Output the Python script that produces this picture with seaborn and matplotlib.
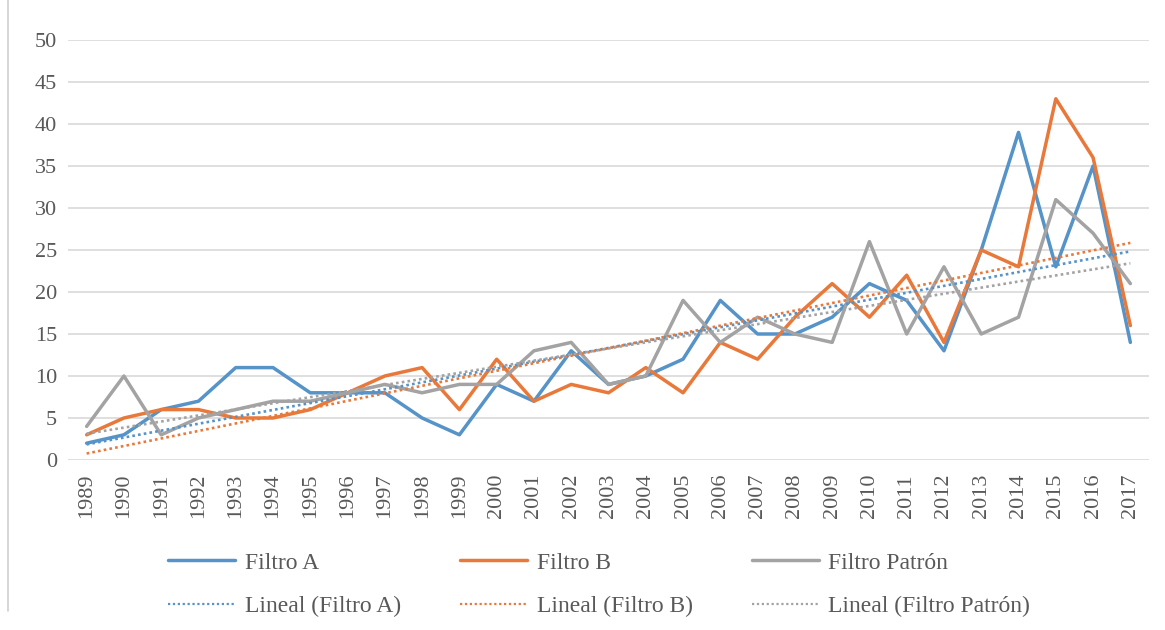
import numpy as np
import pandas as pd
import matplotlib
matplotlib.use("Agg")
import matplotlib.pyplot as plt
import seaborn as sns
from matplotlib.lines import Line2D

# datos
anios = list(range(1989, 2018))
filtro_a = [2, 3, 6, 7, 11, 11, 8, 8, 8, 5, 3, 9, 7, 13, 9, 10, 12, 19, 15, 15,
            17, 21, 19, 13, 25, 39, 23, 35, 14]
filtro_b = [3, 5, 6, 6, 5, 5, 6, 8, 10, 11, 6, 12, 7, 9, 8, 11, 8, 14, 12, 17,
            21, 17, 22, 14, 25, 23, 43, 36, 16]
filtro_patron = [4, 10, 3, 5, 6, 7, 7, 8, 9, 8, 9, 9, 13, 14, 9, 10, 19, 14, 17, 15,
                 14, 26, 15, 23, 15, 17, 31, 27, 21]

series = ["Filtro A", "Filtro B", "Filtro Patrón"]
colores = {"Filtro A": "#5593c8", "Filtro B": "#e8793a", "Filtro Patrón": "#a3a3a3"}

df = pd.DataFrame({
    "anio": anios * 3,
    "valor": filtro_a + filtro_b + filtro_patron,
    "serie": [s for s in series for _ in anios],
})

sns.set_theme(style="white")
plt.rcParams['font.family'] = ['Liberation Serif', 'DejaVu Serif']
gris_txt = "#595959"
punteado = (0, (1, 1.2))

fig = plt.figure(figsize=(11.65, 6.3), dpi=100)
fig.patch.set_facecolor('white')
ax = fig.add_axes([68 / 1165, 1 - 460 / 630, (1149 - 68) / 1165, 420 / 630])

sns.lineplot(data=df, x="anio", y="valor", hue="serie", palette=colores,
             linewidth=2.5, ax=ax, legend=False, sort=False)

# lineas de tendencia lineal
for s in series:
    sub = df[df["serie"] == s]
    sns.regplot(data=sub, x="anio", y="valor", scatter=False, ci=None, ax=ax,
                truncate=True,
                line_kws={"color": colores[s], "linestyle": punteado, "linewidth": 1.9})

ax.set_xlim(1988.5, 2017.5)
ax.set_ylim(0, 50)
ax.set_yticks(range(0, 51, 5))
ax.set_xticks(anios)
ax.set_xticklabels([str(a) for a in anios], rotation=90)
ax.grid(axis='y', color='#d9d9d9', linewidth=1.2)
ax.set_axisbelow(True)
for sp in ax.spines.values():
    sp.set_visible(False)
ax.tick_params(axis='both', length=0, labelsize=16, colors=gris_txt)
ax.tick_params(axis='x', pad=10)
ax.tick_params(axis='y', pad=8)
ax.set_xlabel("")
ax.set_ylabel("")

# leyenda inferior (orden por columnas: serie y su tendencia)
handles = []
labels = []
for s in series:
    handles.append(Line2D([], [], color=colores[s], linewidth=2.5))
    labels.append(s)
    handles.append(Line2D([], [], color=colores[s], linewidth=1.6, linestyle=punteado))
    labels.append(f"Lineal ({s})")
leg = fig.legend(handles, labels, ncol=3, loc='upper left',
                 bbox_to_anchor=(168 / 1165, 1 - 552 / 630), frameon=False,
                 fontsize=17, handlelength=2.85, handletextpad=0.4,
                 columnspacing=2.5, labelspacing=0.95, borderpad=0, borderaxespad=0)
for t in leg.get_texts():
    t.set_color(gris_txt)

# borde izquierdo del area del grafico
fig.add_artist(Line2D([8 / 1165, 8 / 1165], [0.03, 1.0], color='#d0d0d0', linewidth=1.2))

fig.savefig("out.png", dpi=100)
